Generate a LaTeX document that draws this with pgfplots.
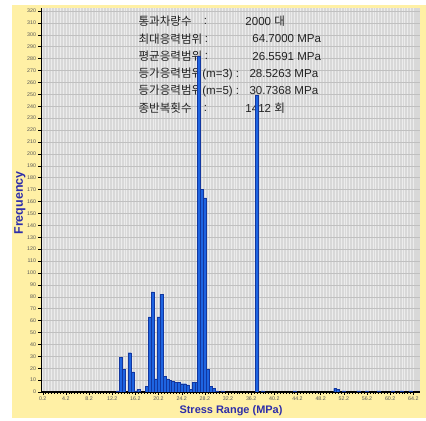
\documentclass[border=0pt]{standalone}
\usepackage{pgfplots}
\pgfplotsset{compat=1.18}
\usepackage{fontspec}
\setmainfont{Liberation Sans}
\newfontfamily\kr{Noto Sans CJK KR}
\definecolor{bgyellow}{RGB}{255,240,165}
\definecolor{plotgrey}{RGB}{216,216,216}
\definecolor{gridv}{RGB}{236,236,236}
\definecolor{gridh}{RGB}{192,192,192}
\definecolor{barblue}{RGB}{30,100,225}
\definecolor{baredge}{RGB}{18,55,160}
\definecolor{labblue}{RGB}{45,45,170}
\definecolor{txt}{RGB}{35,35,35}
\definecolor{ticktxt}{RGB}{85,85,85}
\begin{document}
\begin{tikzpicture}
\path[use as bounding box] (0bp,0bp) rectangle (426bp,421bp);
\fill[bgyellow] (12bp,3bp) rectangle (426bp,416bp);
\begin{axis}[
  at={(41bp,29bp)}, anchor=south west,
  scale only axis, width=378.7bp, height=384bp,
  xmin=-0.1, xmax=65.3, ymin=0, ymax=322.5,
  axis background/.style={fill=plotgrey},
  axis x line*=bottom, axis y line*=left,
  x axis line style={line width=1.6pt, black},
  y axis line style={line width=0.9pt, black},
  xtick={0.2,4.2,8.2,12.2,16.2,20.2,24.2,28.2,32.2,36.2,40.2,44.2,48.2,52.2,56.2,60.2,64.2},
  xticklabels={0.2,4.2,8.2,12.2,16.2,20.2,24.2,28.2,32.2,36.2,40.2,44.2,48.2,52.2,56.2,60.2,64.2},
  minor x tick num=7,
  ytick={0,10,...,320},
  tick align=outside,
  major tick length=2.5bp, minor tick length=1.8bp,
  tick style={black, line width=0.4pt},
  /pgf/number format/assume math mode=true,
  ticklabel style={font=\fontsize{5.3}{6}\selectfont, text=ticktxt},
  yticklabel style={xshift=1bp},
  xticklabel style={yshift=1bp},
  xmajorgrids, xminorgrids, ymajorgrids,
  major x grid style={gridv, line width=0.5pt},
  minor x grid style={gridv, line width=0.5pt},
  major y grid style={gridh, line width=0.4pt},
]
% annotation text (drawn before the bars so that bars cover it)
\node[anchor=west, text=txt, font=\fontsize{11.6}{13}\selectfont] at (axis cs:16.13,311.2) {\kr 통과차량수};
\node[anchor=west, text=txt, font=\fontsize{11.6}{13}\selectfont] at (axis cs:16.13,296.5) {\kr 최대응력범위};
\node[anchor=west, text=txt, font=\fontsize{11.6}{13}\selectfont] at (axis cs:16.13,281.8) {\kr 평균응력범위};
\node[anchor=west, text=txt, font=\fontsize{11.6}{13}\selectfont] at (axis cs:16.13,267.1) {{\kr 등가응력범위}(m=3) :};
\node[anchor=west, text=txt, font=\fontsize{11.6}{13}\selectfont] at (axis cs:16.13,252.8) {{\kr 등가응력범위}(m=5) :};
\node[anchor=west, text=txt, font=\fontsize{11.6}{13}\selectfont] at (axis cs:16.13,238.5) {\kr 종반복횟수};
\node[anchor=west, text=txt, font=\fontsize{11.6}{13}\selectfont] at (axis cs:27.4,311.2) {:};
\node[anchor=west, text=txt, font=\fontsize{11.6}{13}\selectfont] at (axis cs:27.6,296.5) {:};
\node[anchor=west, text=txt, font=\fontsize{11.6}{13}\selectfont] at (axis cs:27.6,281.8) {:};
\node[anchor=west, text=txt, font=\fontsize{11.6}{13}\selectfont] at (axis cs:27.4,238.5) {:};
\node[anchor=west, text=txt, font=\fontsize{11.6}{13}\selectfont] at (axis cs:34.6,311.2) {2000 {\kr 대}};
\node[anchor=west, text=txt, font=\fontsize{11.6}{13}\selectfont] at (axis cs:35.8,296.5) {64.7000 MPa};
\node[anchor=west, text=txt, font=\fontsize{11.6}{13}\selectfont] at (axis cs:35.8,281.8) {26.5591 MPa};
\node[anchor=west, text=txt, font=\fontsize{11.6}{13}\selectfont] at (axis cs:35.3,267.1) {28.5263 MPa};
\node[anchor=west, text=txt, font=\fontsize{11.6}{13}\selectfont] at (axis cs:35.3,252.8) {30.7368 MPa};
\node[anchor=west, text=txt, font=\fontsize{11.6}{13}\selectfont] at (axis cs:34.6,238.5) {1412 {\kr 회}};
\addplot[ybar, bar width=0.5, fill=barblue, draw=baredge, line width=0.3pt] coordinates {
(13.2,1) (13.7,29) (14.2,19) (15.2,33) (15.7,17) (16.2,1) (16.7,2)
(18.2,5) (18.7,63) (19.2,84) (19.7,11) (20.2,63) (20.7,82) (21.2,13) (21.7,11)
(22.2,10) (22.7,9) (23.2,8) (23.7,8) (24.2,7) (24.7,7) (25.2,6) (25.7,2) (26.2,8) (26.7,8)
(27.2,282) (27.7,170) (28.2,163) (28.7,19) (29.2,5) (29.7,3) (30.2,1) (31.2,1)
(37.2,249) (38.2,1) (43.7,1) (50.7,3) (51.2,2) (52.2,1) (54.7,1) (56.2,1) (58.2,1) (60.7,1) (62.2,1) (63.7,1)
};
\end{axis}
\node[font=\bfseries\fontsize{11}{13}\selectfont, text=labblue] at (231bp,10bp) {Stress Range (MPa)};
\node[font=\bfseries\fontsize{12.5}{14}\selectfont, text=labblue, rotate=90] at (20bp,218bp) {Frequency};
\end{tikzpicture}
\end{document}
